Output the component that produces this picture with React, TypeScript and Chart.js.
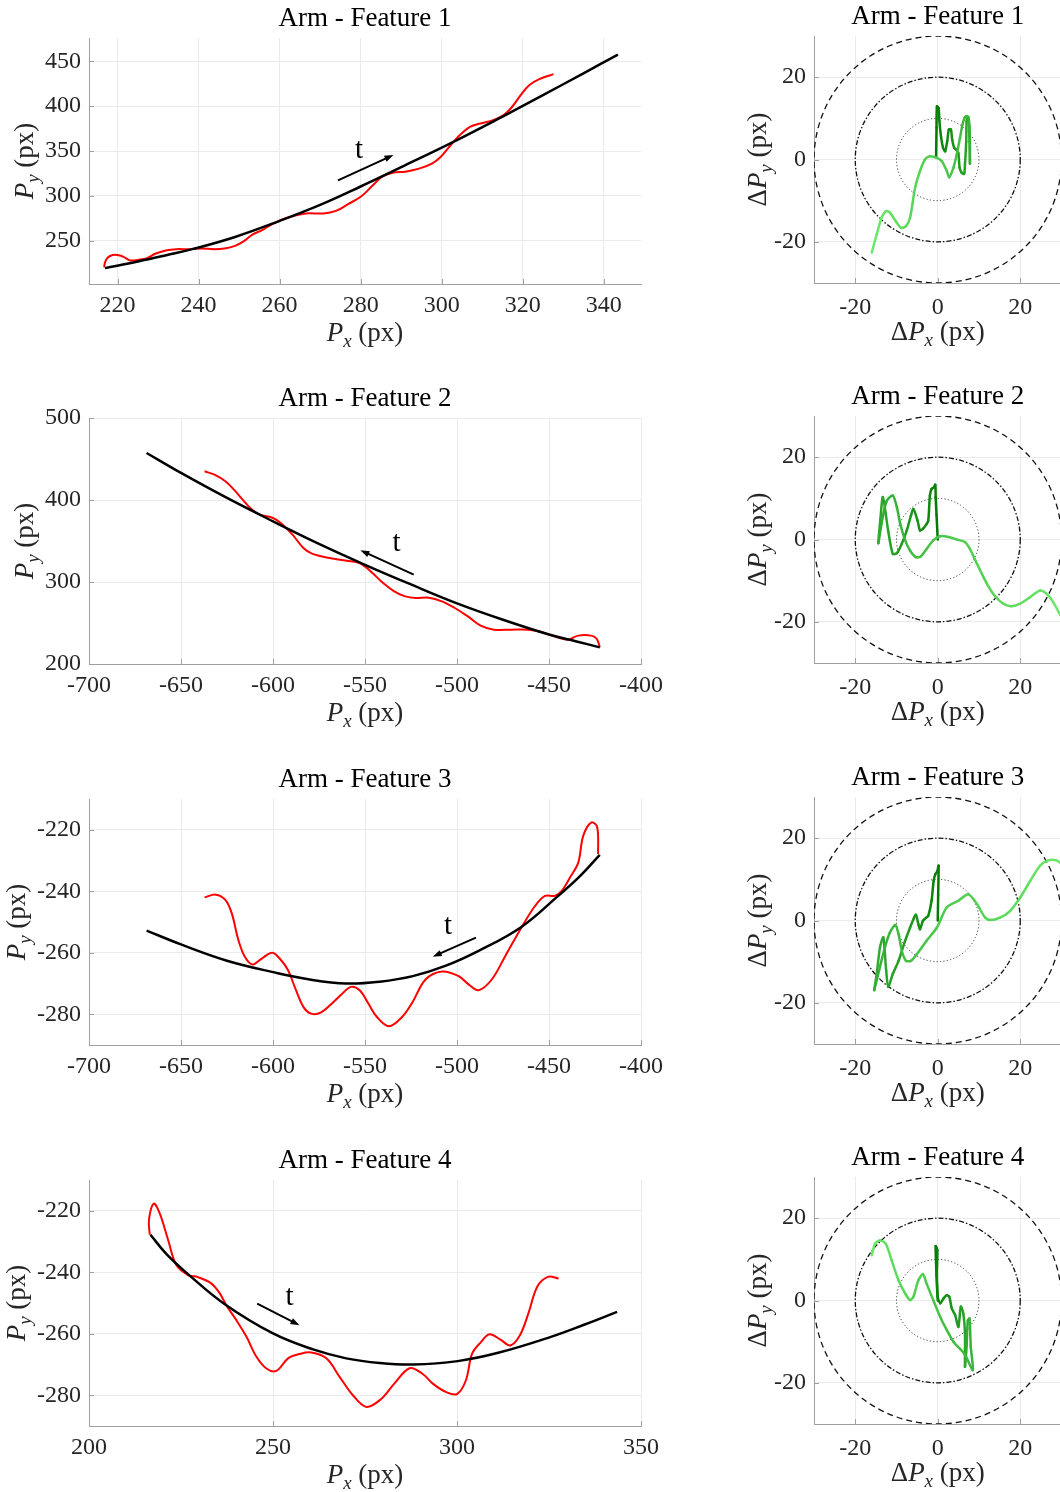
import { useEffect, useRef } from 'react';
import { Chart, registerables } from 'chart.js';

Chart.register(...registerables);

type Pt = [number, number];

const FONT = "'Liberation Serif', 'Times New Roman', serif";
const AXIS_COLOR = '#a0a0a0';
const GRID_COLOR = '#ebebeb';
const TEXT_COLOR = '#262626';
const TICK_SIZE = 24;
const LABEL_SIZE = 27;
const TITLE_SIZE = 27;

// ---- Feature 1 (image coordinates, px) ----
const feature1Reference: Pt[] = [
  [216.9, 219.6], [225, 227.0], [232, 234.0], [238.7, 241.0], [249, 254.3],
  [259.9, 272.0], [270, 290.0], [280, 310.5], [290, 332.0], [303.9, 362.5],
  [314.8, 387.8], [325, 412.2], [335, 436.6], [343.5, 457.4],
];
const feature1Measured: Pt[] = [
  [216.7, 220.4], [216.9, 226.0], [217.6, 231.5], [218.8, 234.3], [220.0, 234.1],
  [221.6, 231.9], [223.1, 228.1], [225.2, 228.9], [227.3, 230.7], [229.3, 235.6],
  [231.9, 239.3], [234.5, 240.7], [237.6, 240.7], [240.7, 241.5], [243.8, 240.7],
  [246.4, 241.5], [249.0, 244.4], [251.1, 249.3], [253.2, 256.7], [255.8, 262.2],
  [258.3, 268.9], [261.5, 275.2], [264.6, 278.9], [267.2, 280.7], [270.8, 280.4],
  [273.9, 283.3], [277.0, 291.1], [280.1, 299.3], [282.7, 310.4], [285.3, 321.5],
  [287.9, 325.9], [291.0, 327.0], [294.6, 330.7], [297.7, 336.3], [299.8, 343.7],
  [301.9, 354.8], [304.5, 367.8], [307.0, 377.0], [309.6, 380.7], [312.7, 384.4],
  [315.3, 390.0], [317.4, 399.3], [319.5, 412.2], [321.6, 423.3], [324.1, 430.0],
  [327.6, 435.6],
];
const feature1Error: Pt[] = [
  [-0.4, 0.6], [-0.3, 7.7], [-0.2, 12.9], [0.2, 12.5], [0.4, 9.3], [0.8, 5.5],
  [1.3, 2.8], [1.8, 2.0], [2.3, 4.5], [2.7, 7.3], [3.2, 7.3], [3.5, 4.8],
  [4.0, 2.8], [4.5, 2.4], [5.0, 1.5], [5.3, -2.0], [5.8, -3.2], [6.4, -3.5],
  [6.6, -1.2], [6.9, 4.4], [7.0, 9.3], [7.3, 10.3], [7.5, 9.3], [7.7, 4.4],
  [7.8, -1.0], [7.8, 3.0], [7.7, 8.0], [7.4, 10.3], [6.9, 10.5], [6.5, 10.1],
  [6.0, 8.5], [5.4, 5.3], [4.6, 1.2], [3.8, -2.0], [2.8, -4.3], [2.2, -2.8],
  [1.0, -0.4], [-0.2, 0.4], [-1.9, 0.8], [-3.1, 0.0], [-4.3, -2.8], [-5.5, -6.9],
  [-6.7, -14.1], [-7.7, -16.2], [-8.9, -16.6], [-9.9, -15.4], [-11.6, -12.9],
  [-12.5, -12.5], [-13.6, -14.1], [-14.8, -18.2], [-16.0, -22.6],
];
const feature1Arrow: Pt[] = [[274.4, 317.4], [288.1, 345.6]];
const feature1Tag: Pt = [279.6, 341.9];

// ---- Feature 2 ----
const feature2Reference: Pt[] = [
  [-668.7, 457.3], [-650, 433.0], [-625, 402.5], [-600, 374.0], [-575, 346.5],
  [-550, 321.0], [-525, 297.0], [-500, 274.0], [-475, 254.0], [-450, 236.0],
  [-435, 227.5], [-422.4, 220.3],
];
const feature2Measured: Pt[] = [
  [-637.2, 435.0], [-631.8, 430.9], [-625.9, 422.8], [-621.2, 412.6], [-616.5, 400.4],
  [-611.8, 389.0], [-607.1, 382.1], [-600.0, 378.0], [-595.3, 371.1], [-589.4, 357.7],
  [-583.5, 341.5], [-578.8, 334.6], [-569.4, 329.3], [-560.0, 326.0], [-552.9, 323.2],
  [-545.9, 311.0], [-541.2, 300.8], [-534.1, 288.6], [-528.2, 282.5], [-522.4, 280.5],
  [-515.3, 280.9], [-508.2, 276.4], [-501.2, 268.3], [-494.1, 258.1], [-487.1, 246.7],
  [-480.0, 241.9], [-470.6, 241.9], [-461.2, 241.9], [-454.1, 239.0], [-447.1, 233.7],
  [-440.0, 229.7], [-434.1, 234.6], [-427.1, 234.6], [-424.0, 230.5], [-422.4, 220.3],
];
const feature2Error: Pt[] = [
  [0.0, 0.0], [-0.3, 6.0], [-0.5, 10.3], [-0.6, 13.3], [-1.0, 12.6], [-1.5, 12.3],
  [-1.9, 10.7], [-2.3, 4.6], [-2.8, 3.6], [-3.6, 2.6], [-4.3, 2.2], [-4.9, 4.6],
  [-5.9, 7.4], [-6.5, 5.8], [-7.5, 2.2], [-8.7, -1.0], [-9.9, -3.3], [-10.9, -3.5],
  [-12.0, 2.0], [-13.3, 10.3], [-13.9, 5.0], [-14.4, -0.9], [-13.6, 4.0],
  [-12.4, 9.3], [-10.9, 10.7], [-9.9, 7.8], [-9.1, 3.8], [-7.9, -0.2], [-6.7, -2.7],
  [-5.3, -4.3], [-4.1, -4.1], [-2.7, -2.3], [-1.1, -0.2], [0.6, 0.8], [2.6, 0.6],
  [5.0, -0.1], [6.6, -0.6], [7.8, -2.3], [9.5, -5.9], [11.9, -10.7], [13.9, -13.8],
  [15.9, -15.6], [17.9, -16.2], [20.0, -15.6], [22.4, -14.0], [24.8, -12.4],
  [26.4, -13.2], [28.0, -15.2], [29.7, -18.4],
];
const feature2Arrow: Pt[] = [[-523.5, 308.9], [-552.5, 338.6]];
const feature2Tag: Pt = [-532.9, 337.4];

// ---- Feature 3 ----
const feature3Reference: Pt[] = [
  [-668.7, -252.8], [-650, -257.3], [-625, -262.6], [-600, -266.3], [-580, -268.7],
  [-560, -270.0], [-542, -269.4], [-524, -267.6], [-506, -264.2], [-488, -259.3],
  [-465, -251.6], [-445, -241.5], [-434, -235.6], [-422.4, -228.2],
];
const feature3Measured: Pt[] = [
  [-637.2, -242.0], [-631.1, -241.1], [-625.9, -242.8], [-622.4, -247.2], [-618.8, -255.9],
  [-615.3, -261.3], [-611.1, -263.8], [-605.9, -261.8], [-600.5, -260.0], [-596.5, -261.8],
  [-591.8, -265.7], [-588.2, -271.1], [-583.5, -277.6], [-579.3, -279.8], [-574.1, -279.5],
  [-567.1, -276.0], [-562.4, -273.3], [-557.6, -271.1], [-552.9, -272.2], [-548.2, -276.5],
  [-543.5, -280.9], [-537.0, -283.9], [-530.0, -281.0], [-524.4, -276.3], [-517.1, -268.7],
  [-508.1, -266.1], [-499.1, -267.6], [-493.7, -270.3], [-488.3, -272.2], [-481.1, -268.7],
  [-473.8, -261.1], [-464.8, -251.6], [-457.6, -244.8], [-452.2, -241.5], [-446.8, -241.5],
  [-443.1, -239.9], [-438.6, -235.5], [-434.1, -230.7], [-431.4, -222.0], [-426.9, -217.6],
  [-423.8, -219.2], [-423.3, -227.9],
];
const feature3Error: Pt[] = [
  [0.0, 0.0], [0.1, 6.0], [0.2, 13.3], [-0.1, 12.0], [-0.6, 11.2], [-1.0, 9.6],
  [-1.5, 4.8], [-2.3, 1.1], [-2.8, 0.7], [-3.6, -0.1], [-4.3, -2.1], [-4.7, -0.9],
  [-5.3, 1.4], [-5.9, 0.3], [-6.7, -1.7], [-7.9, -4.9], [-9.5, -9.8], [-10.9, -13.0],
  [-12.0, -16.1], [-12.5, -12.2], [-13.2, -4.1], [-14.0, -6.5], [-14.8, -13.0],
  [-15.4, -16.9], [-14.2, -12.0], [-12.8, -6.5], [-11.6, -2.9], [-10.3, -1.1],
  [-9.5, -3.3], [-8.7, -7.4], [-7.7, -9.8], [-6.5, -9.8], [-5.1, -8.2], [-2.7, -4.9],
  [-0.2, -1.7], [2.2, 3.2], [5.0, 4.8], [7.4, 6.4], [9.5, 4.0], [11.5, 0.7],
  [12.8, 0.1], [15.1, 0.7], [17.5, 2.3], [20.0, 5.6], [22.4, 9.6], [24.8, 13.3],
  [26.8, 14.6], [28.8, 14.6], [30.1, 13.7],
];
const feature3Arrow: Pt[] = [[-489.7, -255.1], [-513.2, -261.3]];
const feature3Tag: Pt = [-504.9, -254.0];

// ---- Feature 4 ----
const feature4Reference: Pt[] = [
  [216.7, -227.8], [221, -234.0], [226.9, -240.6], [236.9, -250.4], [250, -259.9],
  [260.9, -265.1], [269.9, -268.0], [279, -269.5], [288.2, -270.0], [300.2, -268.9],
  [311.2, -266.2], [325.3, -261.1], [334.7, -257.0], [343.5, -252.9],
];
const feature4Measured: Pt[] = [
  [216.5, -227.8], [216.3, -222.9], [217.6, -217.7], [219.2, -220.8], [221.5, -229.5],
  [223.7, -237.6], [226.9, -240.9], [229.6, -241.6], [233.2, -243.6], [235.5, -246.8],
  [237.3, -250.7], [240.0, -255.5], [242.8, -261.0], [245.5, -267.5], [248.2, -271.3],
  [250.9, -272.1], [254.1, -268.0], [257.2, -266.6], [260.4, -266.1], [264.5, -268.0],
  [268.1, -274.0], [271.7, -280.0], [275.4, -283.8], [279.4, -281.2], [282.9, -276.3],
  [287.1, -271.2], [290.6, -273.0], [293.5, -276.3], [297.1, -279.0], [300.0, -279.6],
  [302.4, -275.2], [304.1, -266.5], [306.5, -262.7], [308.8, -260.2], [311.8, -261.9],
  [314.5, -263.8], [317.1, -260.5], [319.4, -253.4], [321.8, -244.7], [324.7, -241.5],
  [327.6, -242.0],
];
const feature4Error: Pt[] = [
  [0.0, 0.0], [-0.3, 6.0], [-0.5, 13.2], [-0.1, 12.2], [-0.2, 6.5], [0.0, 0.9],
  [0.6, -0.7], [1.4, 0.5], [2.2, 1.3], [2.8, 0.9], [3.4, -1.9], [4.2, -3.5],
  [5.0, -6.4], [5.6, -1.5], [6.2, -3.2], [6.6, -8.0], [6.6, -16.1], [7.0, -11.0],
  [7.3, -4.8], [7.7, -4.4], [8.0, -11.2], [8.5, -16.9], [6.5, -13.0], [3.8, -10.0],
  [2.2, -7.2], [0.6, -4.0], [-1.1, 0.1], [-2.7, 4.1], [-3.6, 6.4], [-4.7, 4.9],
  [-5.9, 0.9], [-6.7, 0.1], [-7.9, 1.7], [-9.5, 4.9], [-11.2, 9.8], [-12.6, 13.8],
  [-14.0, 14.6], [-15.2, 13.8], [-16.0, 11.0],
];
const feature4Arrow: Pt[] = [[245.7, -250.2], [257.2, -257.2]];
const feature4Tag: Pt = [254.5, -250.7];

// ---- Axes ----
const featureTitles = ['Arm - Feature 1', 'Arm - Feature 2', 'Arm - Feature 3', 'Arm - Feature 4'];
const feature1XRange: Pt = [212.95, 349.2];
const feature1YRange: Pt = [201.9, 475.9];
const feature2XRange: Pt = [-700, -400];
const feature2YRange: Pt = [200, 500];
const feature3XRange: Pt = [-700, -400];
const feature3YRange: Pt = [-290, -210];
const feature4XRange: Pt = [200, 350];
const feature4YRange: Pt = [-290, -210];
const errorRange: Pt = [-30, 30];

const feature1XTicks = [220, 240, 260, 280, 300, 320, 340];
const feature1YTicks = [250, 300, 350, 400, 450];
const feature23XTicks = [-700, -650, -600, -550, -500, -450, -400];
const feature2YTicks = [200, 300, 400, 500];
const feature34YTicks = [-280, -260, -240, -220];
const feature4XTicks = [200, 250, 300, 350];
const errorTicks = [-20, 0, 20];

// tolerance rings around the reference point
const ringRadii = [10, 20, 30];
const RING_STYLES = [
  { dash: [1.2, 2.2], width: 1, color: '#3a3a3a' },
  { dash: [5, 2, 1.5, 2], width: 1.3, color: '#111' },
  { dash: [6, 4], width: 1.3, color: '#111' },
];

const GREEN_START = [0, 122, 0];
const GREEN_END = [108, 234, 108];
function greenAt(t: number) {
  const c = GREEN_START.map((s, i) => Math.round(s + (GREEN_END[i] - s) * t));
  return `rgb(${c[0]},${c[1]},${c[2]})`;
}

type Run = { text: string; italic?: boolean; sub?: boolean };

function drawRuns(ctx: CanvasRenderingContext2D, runs: Run[], size: number) {
  const fontFor = (r: Run) => `${r.italic ? 'italic ' : ''}${r.sub ? size * 0.7 : size}px ${FONT}`;
  const widths = runs.map((r) => {
    ctx.font = fontFor(r);
    return ctx.measureText(r.text).width;
  });
  const total = widths.reduce((a, b) => a + b, 0);
  let x = -total / 2;
  runs.forEach((r, i) => {
    ctx.font = fontFor(r);
    ctx.fillText(r.text, x, r.sub ? size * 0.24 : 0);
    x += widths[i];
  });
}

interface PanelProps {
  left: number;
  top: number;
  width: number;
  height: number;
  area: { left: number; top: number; right: number; bottom: number };
  title: string;
  kind: 'path' | 'error';
  xRange: Pt;
  yRange: Pt;
  xTicks: number[];
  yTicks: number[];
  reference?: Pt[];
  measured?: Pt[];
  error?: Pt[];
  arrow?: Pt[];
  tag?: Pt;
  yLabelGap: number;
  xTickPad: number;
}

function Panel(p: PanelProps) {
  const ref = useRef<HTMLCanvasElement>(null);

  useEffect(() => {
    const canvas = ref.current;
    if (!canvas) return;
    const toXY = (pts: Pt[]) => pts.map(([x, y]) => ({ x, y }));

    const datasets: any[] = [];
    if (p.kind === 'path') {
      datasets.push({
        data: toXY(p.reference!),
        borderColor: '#000000',
        borderWidth: 2.5,
        pointRadius: 0,
        tension: 0.4,
        fill: false,
      });
      datasets.push({
        data: toXY(p.measured!),
        borderColor: '#ff0000',
        borderWidth: 2,
        pointRadius: 0,
        tension: 0.35,
        fill: false,
      });
    } else {
      const n = p.error!.length;
      datasets.push({
        data: toXY(p.error!),
        borderColor: greenAt(0),
        borderWidth: 2.5,
        borderCapStyle: 'round',
        borderJoinStyle: 'round',
        pointRadius: 0,
        tension: 0.25,
        fill: false,
        segment: {
          borderColor: (c: any) => greenAt(c.p0DataIndex / (n - 1)),
        },
      });
    }

    const xLabel: Run[] =
      p.kind === 'path'
        ? [{ text: 'P', italic: true }, { text: 'x', italic: true, sub: true }, { text: ' (px)' }]
        : [{ text: 'Δ' }, { text: 'P', italic: true }, { text: 'x', italic: true, sub: true }, { text: ' (px)' }];
    const yLabel: Run[] =
      p.kind === 'path'
        ? [{ text: 'P', italic: true }, { text: 'y', italic: true, sub: true }, { text: ' (px)' }]
        : [{ text: 'Δ' }, { text: 'P', italic: true }, { text: 'y', italic: true, sub: true }, { text: ' (px)' }];

    const decor = {
      id: 'decor',
      beforeDatasetsDraw(chart: any) {
        const { ctx, chartArea: a, scales } = chart;
        const xs = scales.x;
        const ys = scales.y;
        ctx.save();
        ctx.strokeStyle = AXIS_COLOR;
        ctx.lineWidth = 1;
        ctx.beginPath();
        p.xTicks.forEach((v) => {
          const px = Math.round(xs.getPixelForValue(v)) + 0.5;
          ctx.moveTo(px, a.bottom);
          ctx.lineTo(px, a.bottom - 5);
        });
        p.yTicks.forEach((v) => {
          const py = Math.round(ys.getPixelForValue(v)) + 0.5;
          ctx.moveTo(a.left, py);
          ctx.lineTo(a.left + 5, py);
        });
        ctx.stroke();
        if (p.kind === 'error') {
          ctx.beginPath();
          ctx.rect(a.left, a.top, a.right - a.left, a.bottom - a.top);
          ctx.clip();
          const cx = xs.getPixelForValue(0);
          const cy = ys.getPixelForValue(0);
          ringRadii.forEach((r, i) => {
            const st = RING_STYLES[i];
            ctx.beginPath();
            ctx.setLineDash(st.dash);
            ctx.lineWidth = st.width;
            ctx.strokeStyle = st.color;
            ctx.ellipse(
              cx,
              cy,
              Math.abs(xs.getPixelForValue(r) - cx),
              Math.abs(ys.getPixelForValue(r) - cy),
              0,
              0,
              Math.PI * 2,
            );
            ctx.stroke();
          });
        }
        ctx.restore();
      },
      afterDatasetsDraw(chart: any) {
        if (!p.arrow || !p.tag) return;
        const { ctx, scales } = chart;
        const xs = scales.x;
        const ys = scales.y;
        const X0 = xs.getPixelForValue(p.arrow[0][0]);
        const Y0 = ys.getPixelForValue(p.arrow[0][1]);
        const X1 = xs.getPixelForValue(p.arrow[1][0]);
        const Y1 = ys.getPixelForValue(p.arrow[1][1]);
        const ang = Math.atan2(Y1 - Y0, X1 - X0);
        const head = 9;
        const half = 3.2;
        const cos = Math.cos(ang);
        const sin = Math.sin(ang);
        ctx.save();
        ctx.strokeStyle = '#000';
        ctx.fillStyle = '#000';
        ctx.lineWidth = 2;
        ctx.beginPath();
        ctx.moveTo(X0, Y0);
        ctx.lineTo(X1 - cos * head * 0.7, Y1 - sin * head * 0.7);
        ctx.stroke();
        ctx.beginPath();
        ctx.moveTo(X1, Y1);
        ctx.lineTo(X1 - cos * head - sin * half, Y1 - sin * head + cos * half);
        ctx.lineTo(X1 - cos * head + sin * half, Y1 - sin * head - cos * half);
        ctx.closePath();
        ctx.fill();
        ctx.font = `29px ${FONT}`;
        ctx.textAlign = 'center';
        ctx.textBaseline = 'alphabetic';
        ctx.fillText('t', xs.getPixelForValue(p.tag[0]), ys.getPixelForValue(p.tag[1]));
        ctx.restore();
      },
      afterDraw(chart: any) {
        const { ctx, chartArea: a } = chart;
        ctx.save();
        ctx.textBaseline = 'alphabetic';
        ctx.textAlign = 'left';
        // title
        ctx.fillStyle = '#000';
        ctx.font = `${TITLE_SIZE}px ${FONT}`;
        const tw = ctx.measureText(p.title).width;
        ctx.fillText(p.title, (a.left + a.right) / 2 - tw / 2, a.top - 12);
        // x label
        ctx.fillStyle = TEXT_COLOR;
        ctx.save();
        ctx.translate((a.left + a.right) / 2, a.bottom + 57);
        drawRuns(ctx, xLabel, LABEL_SIZE);
        ctx.restore();
        // y label
        ctx.save();
        ctx.translate(a.left - p.yLabelGap, (a.top + a.bottom) / 2);
        ctx.rotate(-Math.PI / 2);
        drawRuns(ctx, yLabel, LABEL_SIZE);
        ctx.restore();
        ctx.restore();
      },
    };

    const axis = (range: Pt, ticks: number[], isX: boolean) => ({
      type: 'linear',
      min: range[0],
      max: range[1],
      afterBuildTicks: (s: any) => {
        s.ticks = ticks.map((v) => ({ value: v }));
      },
      afterFit: (s: any) => {
        if (isX) s.height = p.height - p.area.bottom;
        else s.width = p.area.left;
      },
      grid: { color: GRID_COLOR, lineWidth: 1, drawTicks: false },
      border: { display: true, color: AXIS_COLOR, width: 1 },
      ticks: {
        autoSkip: false,
        maxRotation: 0,
        minRotation: 0,
        padding: isX ? p.xTickPad : 8,
        color: TEXT_COLOR,
        font: { family: FONT, size: TICK_SIZE },
        callback: (v: any) => String(v),
      },
    });

    const chart = new Chart(canvas, {
      type: 'line',
      data: { datasets },
      options: {
        responsive: false,
        animation: false,
        devicePixelRatio: 1,
        events: [],
        layout: {
          autoPadding: false,
          padding: { left: 0, top: p.area.top, right: p.width - p.area.right, bottom: 0 },
        },
        plugins: {
          legend: { display: false },
          tooltip: { enabled: false },
          title: { display: false },
        },
        scales: {
          x: axis(p.xRange, p.xTicks, true),
          y: axis(p.yRange, p.yTicks, false),
        },
      } as any,
      plugins: [decor],
    });
    return () => chart.destroy();
  }, []);

  return (
    <canvas
      ref={ref}
      width={p.width}
      height={p.height}
      style={{ position: 'absolute', left: p.left, top: p.top, width: p.width, height: p.height }}
    />
  );
}

const leftTops = [38, 418, 799, 1180];
const rightTops = [36, 416, 797, 1177];

const LEFT_W = 700;
const RIGHT_W = 370;
const PANEL_H = 380;
const leftArea = { left: 89, top: 40, right: 641, bottom: 286 };
const rightArea = { left: 114, top: 40, right: 361.5, bottom: 287 };

const pathPanels: Omit<PanelProps, 'left' | 'top' | 'width' | 'height' | 'area' | 'kind' | 'xTickPad'>[] = [
  {
    title: featureTitles[0], xRange: feature1XRange, yRange: feature1YRange,
    xTicks: feature1XTicks, yTicks: feature1YTicks,
    reference: feature1Reference, measured: feature1Measured,
    arrow: feature1Arrow, tag: feature1Tag, yLabelGap: 56,
  },
  {
    title: featureTitles[1], xRange: feature2XRange, yRange: feature2YRange,
    xTicks: feature23XTicks, yTicks: feature2YTicks,
    reference: feature2Reference, measured: feature2Measured,
    arrow: feature2Arrow, tag: feature2Tag, yLabelGap: 56,
  },
  {
    title: featureTitles[2], xRange: feature3XRange, yRange: feature3YRange,
    xTicks: feature23XTicks, yTicks: feature34YTicks,
    reference: feature3Reference, measured: feature3Measured,
    arrow: feature3Arrow, tag: feature3Tag, yLabelGap: 64,
  },
  {
    title: featureTitles[3], xRange: feature4XRange, yRange: feature4YRange,
    xTicks: feature4XTicks, yTicks: feature34YTicks,
    reference: feature4Reference, measured: feature4Measured,
    arrow: feature4Arrow, tag: feature4Tag, yLabelGap: 64,
  },
];

const errorSeries = [feature1Error, feature2Error, feature3Error, feature4Error];

export default function App() {
  return (
    <div
      style={{
        position: 'absolute',
        left: 0,
        top: 0,
        width: 1060,
        height: 1492,
        overflow: 'hidden',
        background: '#ffffff',
      }}
    >
      {pathPanels.map((cfg, i) => (
        <Panel
          key={`path-${i}`}
          {...cfg}
          kind="path"
          left={0}
          top={leftTops[i] - leftArea.top}
          width={LEFT_W}
          height={PANEL_H}
          area={leftArea}
          xTickPad={7}
        />
      ))}
      {errorSeries.map((err, i) => (
        <Panel
          key={`err-${i}`}
          kind="error"
          title={featureTitles[i]}
          left={700}
          top={rightTops[i] - rightArea.top}
          width={RIGHT_W}
          height={PANEL_H}
          area={rightArea}
          xRange={errorRange}
          yRange={errorRange}
          xTicks={errorTicks}
          yTicks={errorTicks}
          error={err}
          yLabelGap={48}
          xTickPad={10}
        />
      ))}
    </div>
  );
}
